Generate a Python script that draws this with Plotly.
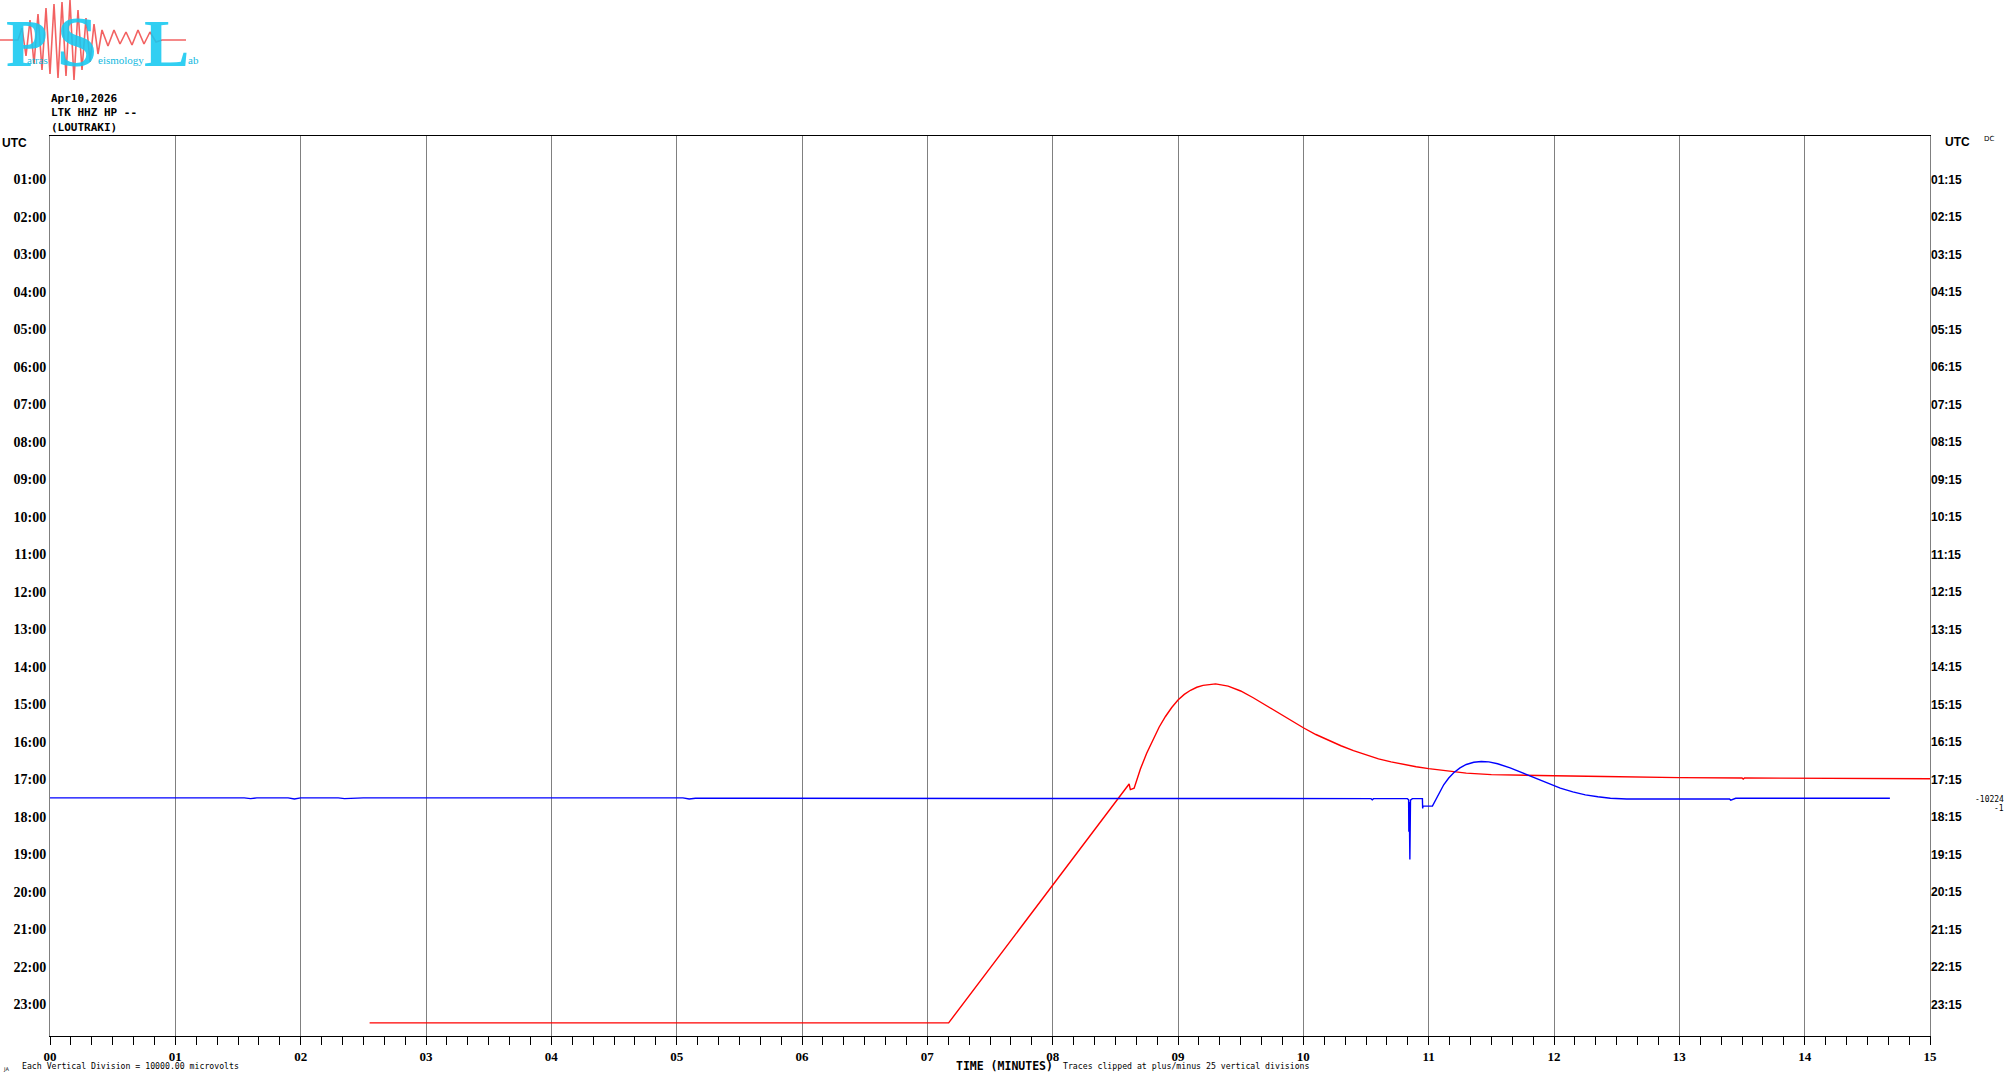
import plotly.graph_objects as go

W, H = 2010, 1080

# helicorder rows (row index = hour line, 0 at top)
row_ticks = list(range(1, 24))
left_labels = [f"{h:02d}:00" for h in row_ticks]
right_labels = [f"{h:02d}:15" for h in row_ticks]
minute_ticks = list(range(16))
minute_labels = [f"{m:02d}" for m in minute_ticks]

# red trace (minutes, row position)
red_t = [2.55, 7.17, 8.61, 8.62, 8.65, 8.70, 8.75, 8.80, 8.85, 8.90, 8.95, 9.00, 9.05,
         9.10, 9.15, 9.20, 9.25, 9.30, 9.40, 9.50, 9.60, 9.70, 9.80, 9.90, 10.00, 10.10,
         10.20, 10.30, 10.40, 10.50, 10.60, 10.70, 10.80, 10.90, 11.00, 11.15, 11.30,
         11.50, 11.75, 12.00, 12.40, 12.70, 13.00, 13.50, 13.51, 13.52, 14.00, 14.50, 15.00]
red_row = [23.49, 23.49, 17.12, 17.27, 17.23, 16.72, 16.30, 15.93, 15.60, 15.32, 15.08,
           14.88, 14.73, 14.62, 14.54, 14.49, 14.46, 14.45, 14.51, 14.64, 14.82, 15.02,
           15.23, 15.43, 15.62, 15.80, 15.96, 16.10, 16.23, 16.35, 16.45, 16.53, 16.60,
           16.66, 16.71, 16.78, 16.83, 16.87, 16.89, 16.90, 16.92, 16.94, 16.95, 16.96,
           16.99, 16.96, 16.97, 16.97, 16.98]

# blue trace (minutes, row position)
blue_t = [0.00, 1.55, 1.60, 1.65, 1.90, 1.95, 2.00, 2.30, 2.35, 2.50, 5.05, 5.10, 5.15,
          5.60, 5.65, 5.70, 6.15, 8.00, 10.54, 10.55, 10.56, 10.83, 10.835, 10.84, 10.842,
          10.845, 10.85, 10.855, 10.87, 10.95, 10.952, 10.955, 11.03, 11.05, 11.08, 11.12,
          11.16, 11.20, 11.25, 11.30, 11.36, 11.42, 11.48, 11.55, 11.65, 11.75, 11.85,
          11.95, 12.05, 12.15, 12.25, 12.35, 12.45, 12.58, 13.40, 13.41, 13.45, 14.68]
blue_row = [17.49, 17.49, 17.51, 17.49, 17.49, 17.52, 17.49, 17.49, 17.51, 17.49, 17.49,
            17.52, 17.50, 17.50, 17.52, 17.50, 17.50, 17.51, 17.51, 17.54, 17.51, 17.51,
            17.54, 17.54, 18.39, 17.60, 19.13, 17.55, 17.51, 17.51, 17.77, 17.71, 17.71,
            17.58, 17.36, 17.14, 16.96, 16.82, 16.69, 16.60, 16.54, 16.52, 16.53, 16.58,
            16.69, 16.83, 16.97, 17.11, 17.23, 17.33, 17.41, 17.46, 17.50, 17.52, 17.52,
            17.55, 17.50, 17.50]

# logo seismogram (logo pixel space)
logo_x = [0, 18, 22, 26, 30, 34, 38, 42, 46, 50, 54, 58, 62, 66, 70, 74, 78, 82, 86, 90,
          94, 98, 102, 108, 114, 120, 126, 132, 138, 144, 150, 156, 162, 186]
logo_y = [40, 40, 28, 56, 20, 64, 14, 70, 8, 74, 4, 78, 2, 76, 0, 80, 10, 70, 18, 62,
          24, 54, 30, 46, 30, 44, 32, 45, 30, 44, 32, 42, 40, 40]

fig = go.Figure()
fig.add_trace(go.Scatter(x=red_t, y=red_row, mode='lines',
                         line=dict(color='#ff0000', width=1.4), hoverinfo='skip'))
fig.add_trace(go.Scatter(x=blue_t, y=blue_row, mode='lines',
                         line=dict(color='#0000ff', width=1.4), hoverinfo='skip'))
fig.add_trace(go.Scatter(x=[None], y=[None], yaxis='y2', showlegend=False, hoverinfo='skip'))
fig.add_trace(go.Scatter(x=logo_x, y=logo_y, xaxis='x3', yaxis='y3', mode='lines',
                         line=dict(color='rgba(240,70,70,0.85)', width=1.6), hoverinfo='skip'))

x0, x1 = 50 / W, 1930 / W
y0, y1 = 1 - 1036 / H, 1 - 136 / H
yr = [23.84, -0.16]

serif_b = dict(family='Liberation Serif', size=14, color='black', weight='bold')

fig.update_layout(
    width=W, height=H,
    template='none',
    margin=dict(l=0, r=0, t=0, b=0, autoexpand=False),
    paper_bgcolor='white', plot_bgcolor='white',
    showlegend=False,
    xaxis=dict(domain=[x0, x1], range=[0, 15], tickvals=minute_ticks, ticktext=minute_labels,
               automargin=False,
               ticks='outside', ticklen=8, tickcolor='black', tickwidth=1,
               showline=True, linecolor='black', linewidth=1, mirror=True,
               showgrid=True, gridcolor='#808080', gridwidth=1, zeroline=False,
               tickfont=dict(family='Liberation Serif', size=13, color='black', weight='bold'),
               minor=dict(tickmode='linear', tick0=0, dtick=1 / 6, ticks='outside', ticklen=8,
                          tickcolor='black', tickwidth=1, showgrid=False)),
    yaxis=dict(domain=[y0, y1], range=yr, tickvals=row_ticks, ticktext=left_labels,
               automargin=False,
               ticks='', showgrid=False, zeroline=False,
               showline=True, linecolor='#808080', linewidth=1, mirror=True,
               tickfont=serif_b),
    yaxis2=dict(overlaying='y', side='right', anchor='x', range=yr, tickvals=row_ticks,
                automargin=False,
                ticktext=right_labels, ticks='', showgrid=False, zeroline=False, showline=False,
                tickfont=dict(family='Liberation Sans', size=12, color='black', weight='bold')),
    xaxis3=dict(domain=[0, 200 / W], range=[0, 200], visible=False, anchor='y3', automargin=False),
    yaxis3=dict(domain=[1 - 80 / H, 1], range=[80, 0], visible=False, anchor='x3', automargin=False),
)

def px(x, y):
    return x / W, 1 - y / H

anns = []
mono_b = dict(family='DejaVu Sans Mono', size=11, color='black', weight='bold')
for txt, yy in [("Apr10,2026", 98), ("LTK HHZ HP --", 112.5), ("(LOUTRAKI)", 127.5)]:
    xx, yy2 = px(49, yy)
    anns.append(dict(text=txt, x=xx, y=yy2, xref='paper', yref='paper', xanchor='left',
                     yanchor='middle', showarrow=False, font=mono_b))

for txt, xx, yy, anchor, font in [
    ("UTC", 0, 143, 'left', dict(family='Liberation Sans', size=12, color='black', weight='bold')),
    ("UTC", 1943, 142, 'left', dict(family='Liberation Sans', size=12, color='black', weight='bold')),
    ("DC", 1982, 139, 'left', dict(family='DejaVu Sans', size=7, color='black')),
    ("-10224", 2006, 799, 'right', dict(family='DejaVu Sans Mono', size=8, color='black')),
    ("-1", 2006, 808, 'right', dict(family='DejaVu Sans Mono', size=8, color='black')),
    ("TIME (MINUTES)", 954, 1066, 'left', dict(family='DejaVu Sans Mono', size=11.5, color='black', weight='bold')),
    ("Traces clipped at plus/minus 25 vertical divisions", 1061, 1066, 'left',
     dict(family='DejaVu Sans Mono', size=8.2, color='black')),
    ("Each Vertical Division = 10000.00 microvolts", 20, 1066, 'left',
     dict(family='DejaVu Sans Mono', size=8.2, color='black')),
    ("JA", 1, 1069, 'left', dict(family='DejaVu Sans', size=5, color='black')),
]:
    a, b = px(xx, yy)
    anns.append(dict(text=txt, x=a, y=b, xref='paper', yref='paper', xanchor=anchor,
                     yanchor='middle', showarrow=False, font=font))

# logo letters
cyan = 'rgba(20,200,240,0.88)'
for txt, xx, yy, size in [("P", 27, 43, 68), ("S", 77, 42, 72), ("L", 166, 43, 68)]:
    anns.append(dict(text=txt, x=xx, y=yy, xref='x3', yref='y3', xanchor='center',
                     yanchor='middle', showarrow=False,
                     font=dict(family='Liberation Serif', size=size, color=cyan, weight='bold')))
for txt, xx in [("atras", 25), ("eismology", 96), ("ab", 186)]:
    anns.append(dict(text=txt, x=xx, y=60, xref='x3', yref='y3', xanchor='left',
                     yanchor='middle', showarrow=False,
                     font=dict(family='Liberation Serif', size=11, color='#10b8e0')))

fig.update_layout(annotations=anns)
# drop the default page margin so the figure sits at the window corner
fig.write_html("out.html", config={'displayModeBar': False},
               post_script="document.body.style.margin='0';")
